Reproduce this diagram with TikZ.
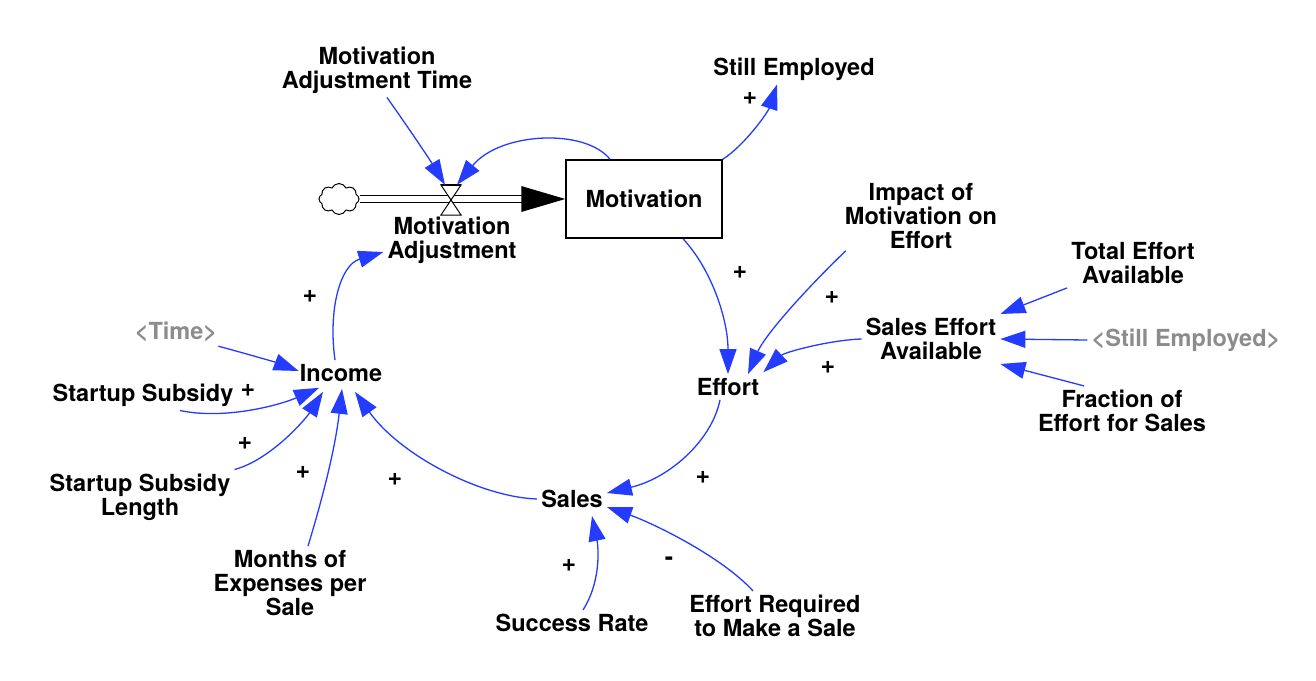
\documentclass[tikz,border=0pt]{standalone}
\usepackage{fontspec}
\setmainfont{TeX Gyre Heros}
\usetikzlibrary{arrows.meta,shapes.symbols}
\definecolor{linkblue}{RGB}{35,60,255}
\definecolor{ghostgray}{RGB}{140,140,140}
\begin{document}
\begin{tikzpicture}[x=1pt,y=-1pt,
  lbl/.style={font=\fontsize{23.5}{24}\selectfont\bfseries, align=center, inner sep=4pt},
  ghost/.style={lbl, text=ghostgray},
  sign/.style={font=\fontsize{25}{25}\selectfont\bfseries, inner sep=0pt},
  conn/.style={draw=linkblue, line width=1.3pt, -{Triangle[length=25pt,width=17pt]}}
]
\useasboundingbox[fill=white] (0,0) rectangle (1316,680);

% nodes
\node[lbl] (mat) at (377,70) {Motivation\\Adjustment Time};
\node[lbl] (still) at (794,69) {Still Employed};
\node[lbl, draw, line width=1.5pt, minimum width=156pt, minimum height=78pt] (mot) at (644,199) {Motivation};
\node[cloud, draw, cloud puffs=8, cloud puff arc=130, aspect=1.35, minimum width=40pt, minimum height=31pt, inner sep=0pt, line width=1pt] (cloud) at (339,199) {};
\node[minimum width=20pt, minimum height=30pt, inner sep=0pt] (valve) at (451,200) {};
\node[lbl] (madj) at (452,240) {Motivation\\Adjustment};
\node[lbl] (impact) at (921,216) {Impact of\\Motivation on\\Effort};
\node[lbl] (total) at (1133,263) {Total Effort\\Available};
\node[lbl] (sea) at (931,339) {Sales Effort\\Available};
\node[ghost] (stillg) at (1186,340) {<Still Employed>};
\node[lbl] (frac) at (1122,411) {Fraction of\\Effort for Sales};
\node[lbl] (effort) at (728,387) {Effort};
\node[lbl] (income) at (341,373) {Income};
\node[ghost] (time) at (176,332) {<Time>};
\node[lbl] (subsidy) at (143,395) {Startup Subsidy};
\node[lbl] (sublen) at (140,497) {Startup Subsidy\\Length};
\node[lbl] (months) at (290,583) {Months of\\Expenses per\\Sale};
\node[lbl] (sales) at (572,499) {Sales};
\node[lbl] (success) at (572,623) {Success Rate};
\node[lbl] (effreq) at (775,616) {Effort Required\\to Make a Sale};

% flow pipe
\draw[line width=1.8pt] ([yshift=3.5pt]cloud.east) -- ([xshift=-40pt,yshift=3.5pt]mot.west);
\draw[line width=1.8pt] ([yshift=-3.5pt]cloud.east) -- ([xshift=-40pt,yshift=-3.5pt]mot.west);
\fill ([xshift=-44pt,yshift=13pt]mot.west) -- (mot.west) -- ([xshift=-44pt,yshift=-13pt]mot.west) -- cycle;
\draw[line width=1pt, fill=white] (valve.north west) -- (valve.north east) -- (valve.south west) -- (valve.south east) -- cycle;
\draw[line width=2.2pt] (valve.north west) -- (valve.north east);

% connectors
\draw[conn] (mat.-70) .. controls (410,130) and (430,160) .. ([xshift=-6pt]valve.north);
\draw[conn] ([xshift=-34pt]mot.north) .. controls (585,128) and (500,132) .. ([xshift=6pt]valve.north);
\draw[conn] (mot.north east) .. controls (745,145) and (768,112) .. ([xshift=-17pt]still.south);
\draw[conn] ([xshift=39pt]mot.south) .. controls (712,270) and (728,320) .. (effort.north);
\draw[conn] ([xshift=5pt,yshift=2pt]impact.south west) .. controls (805,290) and (765,335) .. ([xshift=20pt]effort.north);
\draw[conn] (sea.west) .. controls (830,340) and (785,352) .. ([yshift=2pt]effort.north east);
\draw[conn] (total.south west) -- (sea.north east);
\draw[conn] (stillg.west) -- (sea.east);
\draw[conn] ([xshift=-38pt]frac.north) -- (sea.south east);
\draw[conn] ([xshift=-8pt]effort.south) .. controls (712,440) and (670,478) .. ([yshift=6pt]sales.east);
\draw[conn] (sales.west) .. controls (480,497) and (400,455) .. ([xshift=14pt,yshift=-6pt]income.south);
\draw[conn] ([xshift=18pt]months.north) .. controls (322,500) and (335,450) .. ([xshift=1pt,yshift=-3pt]income.south);
\draw[conn] (sublen.north east) .. controls (270,460) and (305,420) .. ([xshift=-18pt,yshift=-6pt]income.south);
\draw[conn] ([xshift=37pt]subsidy.south) .. controls (225,420) and (280,405) .. ([xshift=-22pt,yshift=-2pt]income.south);
\draw[conn] ([xshift=-3pt]time.south east) .. controls (240,352) and (275,362) .. ([xshift=3pt,yshift=2pt]income.west);
\draw[conn] ([xshift=-6pt]income.north) .. controls (328,310) and (340,265) .. ([yshift=-12pt]madj.west);
\draw[conn] ([xshift=11pt]success.north) .. controls (602,580) and (598,545) .. ([xshift=20pt,yshift=-4pt]sales.south);
\draw[conn] ([xshift=-22pt]effreq.north) .. controls (720,555) and (650,522) .. ([yshift=-8pt]sales.east);

% polarity signs
\node[sign] (p1) at (750,98) {+};
\node[sign] (p2) at (310,296) {+};
\node[sign] (p3) at (740,272) {+};
\node[sign] (p4) at (832,297) {+};
\node[sign] (p5) at (828,367) {+};
\node[sign] (p6) at (248,390) {+};
\node[sign] (p7) at (245,443) {+};
\node[sign] (p8) at (303,472) {+};
\node[sign] (p9) at (395,479) {+};
\node[sign] (p10) at (703,477) {+};
\node[sign] (p11) at (569,565) {+};
\node[sign] (m1) at (669,561) {-};
\end{tikzpicture}
\end{document}
